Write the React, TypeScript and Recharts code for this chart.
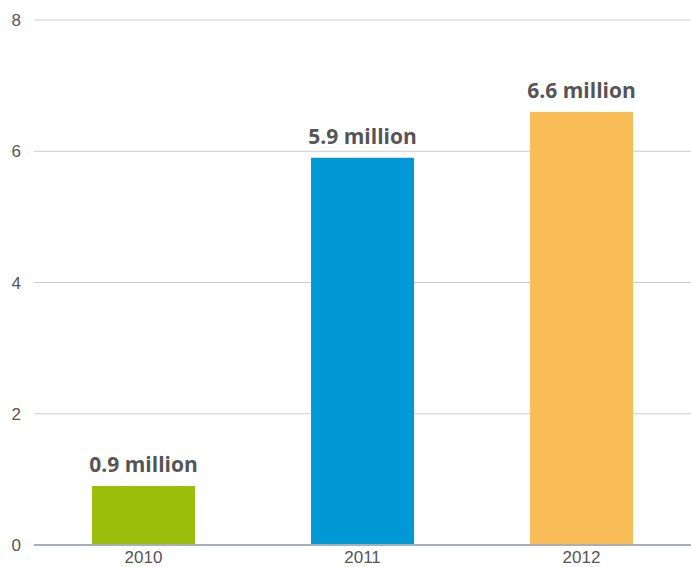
import React from "react";
import { BarChart, Bar, XAxis, YAxis, CartesianGrid, LabelList, Cell } from "recharts";

const years = ["2010", "2011", "2012"];
const values = [0.9, 5.9, 6.6];
const labels = ["0.9 million", "5.9 million", "6.6 million"];
const colors = ["#9bbe0a", "#0099d5", "#f8bd56"];
const yTicks = [0, 2, 4, 6, 8];

const data = years.map((y, i) => ({ year: y, value: values[i], label: labels[i], pos: i + 0.5 }));

export default function App() {
  return (
    <div style={{ position: "absolute", left: 0, top: 0, background: "#fff" }}>
      <BarChart
        width={691}
        height={567}
        data={data}
        margin={{ top: 20, right: 0, left: 0, bottom: 0 }}
        barCategoryGap="26.5%"
      >
        <CartesianGrid vertical={false} stroke="#cccccc" strokeWidth={1} />
        <XAxis
          dataKey="year"
          height={22}
          axisLine={{ stroke: "#a5afbd", strokeWidth: 2 }}
          tickLine={false}
          tick={{ fill: "#555555", fontSize: 17, fontFamily: "Liberation Sans, Arial, sans-serif" }}
          tickMargin={0}
        />
        <XAxis
          xAxisId="b"
          type="number"
          dataKey="pos"
          domain={[0, 3]}
          ticks={[0, 1, 2, 3]}
          height={0}
          axisLine={false}
          tick={false}
          tickLine={{ stroke: "#c3d0e0", strokeWidth: 1 }}
          tickSize={6}
        />
        <YAxis
          width={34}
          domain={[0, 8]}
          ticks={yTicks}
          axisLine={false}
          tickLine={false}
          tickMargin={7}
          tick={{ fill: "#555555", fontSize: 17, fontFamily: "Liberation Sans, Arial, sans-serif" }}
        />
        <Bar dataKey="value" isAnimationActive={false}>
          {data.map((d, i) => (
            <Cell key={d.year} fill={colors[i]} />
          ))}
          <LabelList
            dataKey="label"
            position="top"
            offset={14}
            style={{ fill: "#555555", fontSize: 21, fontWeight: 700, fontFamily: "Open Sans, sans-serif" }}
          />
        </Bar>
      </BarChart>
    </div>
  );
}
